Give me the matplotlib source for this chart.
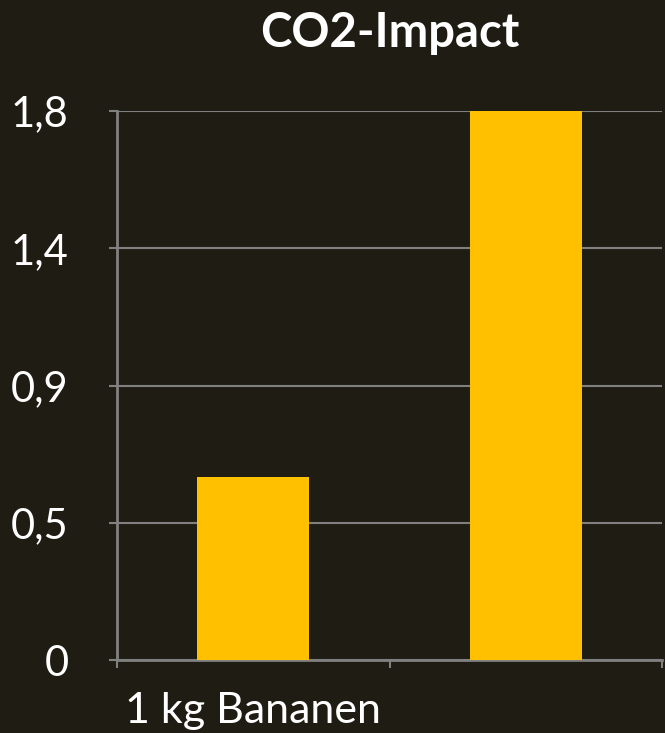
import matplotlib
matplotlib.use("Agg")
import matplotlib.pyplot as plt

categories = ["1 kg Bananen", ""]
values = [0.6, 1.8]
ytick_values = [0, 0.45, 0.9, 1.35, 1.8]
ytick_labels = ["0", "0,5", "0,9", "1,4", "1,8"]
title = "CO2-Impact"

bg = "#1f1c13"
bar_color = "#FFC000"
grid_color = "#808080"

plt.rcParams['font.family'] = ['Lato', 'DejaVu Sans']

fig = plt.figure(figsize=(6.65, 7.33), dpi=100, facecolor=bg)
ax = fig.add_axes([117/665, 73/733, 545/665, 549/733], facecolor=bg)

x = list(range(len(categories)))
ax.bar(x, values, width=0.41, color=bar_color, zorder=3)

ax.set_xlim(-0.5, len(categories) - 0.5)
ax.set_ylim(0, 1.8)
ax.set_yticks(ytick_values)
ax.set_yticklabels(ytick_labels)
ax.set_xticks([-0.5, 0.5, 1.5])
ax.set_xticklabels([])
ax.set_xticks(x, minor=True)
ax.set_xticklabels(categories, minor=True)

ax.grid(axis='y', color=grid_color, linewidth=1.5, zorder=0)
for s in ['top', 'right']:
    ax.spines[s].set_visible(False)
for s in ['left', 'bottom']:
    ax.spines[s].set_color(grid_color)
    ax.spines[s].set_linewidth(2)

ax.tick_params(axis='y', which='major', colors=grid_color, length=6, width=1.5,
               labelcolor='white', labelsize=30, pad=29)
ax.tick_params(axis='x', which='major', colors=grid_color, length=6, width=1.5)
ax.tick_params(axis='x', which='minor', length=0, labelcolor='white', labelsize=31, pad=23)

for lbl in ax.get_yticklabels():
    lbl.set_horizontalalignment('right')

ax.set_title(title, color='white', fontsize=34, fontweight='bold', pad=46)

fig.savefig("out.png", dpi=100, facecolor=bg)
